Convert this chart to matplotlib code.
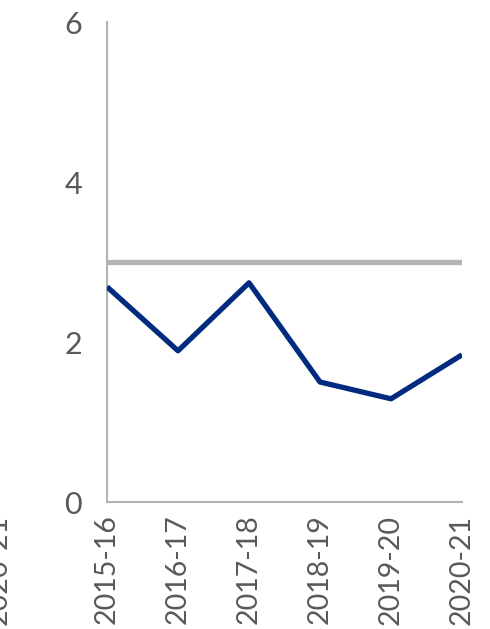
import matplotlib
matplotlib.use("Agg")
import matplotlib.pyplot as plt

years = ["2015-16", "2016-17", "2017-18", "2018-19", "2019-20", "2020-21"]
values = [2.69, 1.89, 2.74, 1.50, 1.29, 1.84]
target = 3.0
yticks = [0, 2, 4, 6]

plt.rcParams['font.family'] = ['Lato', 'DejaVu Sans']
fig = plt.figure(figsize=(4.9, 6.29), dpi=100)
ax = fig.add_axes([0.2184, 0.2019, 0.7245, 0.7631])

x = list(range(len(years)))
ax.plot([x[0], x[-1]], [target, target], color="#b4b4b4", lw=3.8, solid_capstyle="butt", zorder=2)
ax.plot(x, values, color="#002b7f", lw=3.8, solid_capstyle="butt", zorder=3)

ax.set_xlim(0, len(years) - 1)
ax.set_ylim(0, 6)
ax.set_yticks(yticks)
ax.set_yticklabels([str(t) for t in yticks])
ax.set_xticks(x)
ax.set_xticklabels(years, rotation=90)
ax.tick_params(axis="both", length=0, colors="#595959")
ax.tick_params(axis="y", pad=18, labelsize=22)
ax.tick_params(axis="x", pad=9, labelsize=20.5)
for s in ["top", "right"]:
    ax.spines[s].set_visible(False)
for s in ["left", "bottom"]:
    ax.spines[s].set_color("#b4b4b4")
    ax.spines[s].set_linewidth(1.5)

# cropped label from neighbouring panel
fig.text(-0.002, 0.181, "2020-21", rotation=90, ha="center", va="top",
         fontsize=20.5, color="#595959")

fig.savefig("out.png", dpi=100)
